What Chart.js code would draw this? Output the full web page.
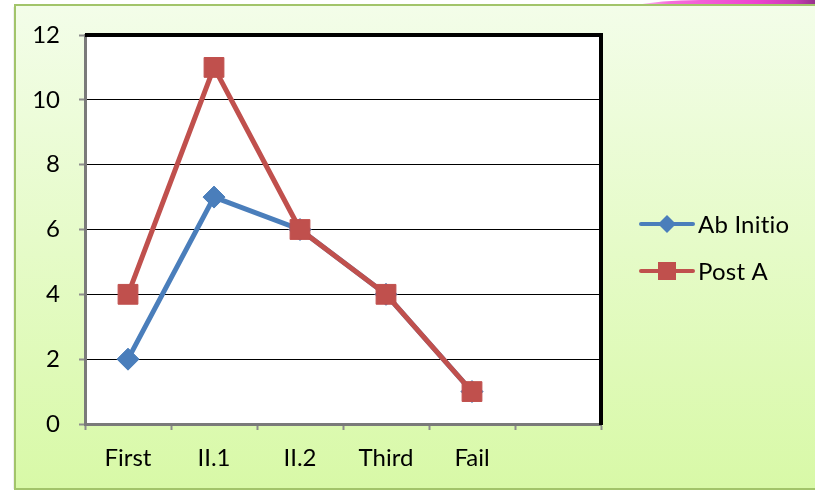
<!DOCTYPE html>
<html>
<head>
<meta charset="utf-8">
<script src="https://cdn.jsdelivr.net/npm/chart.js@4"></script>
<style>
  html, body { margin: 0; padding: 0; background: #ffffff; }
  #c { display: block; }
</style>
</head>
<body>
<canvas id="c" width="815" height="491"></canvas>
<script>
// Grade categories (the sixth slot is left empty on the axis)
const categories = ['First', 'II.1', 'II.2', 'Third', 'Fail', ''];
// Number of students per grade
const abInitio = [2, 7, 6, 4, 1, null];
const postA = [4, 11, 6, 4, 1, null];
// Value axis range
const yMin = 0;
const yMax = 12;
const yStep = 2;

const BLUE = '#4a7ebb';
const RED = '#c0504d';
const FONT = { family: 'Lato, "Liberation Sans", sans-serif', size: 24 };

// Background panel, frame and plot-area styling
const framePlugin = {
  id: 'frame',
  beforeDraw(chart) {
    const ctx = chart.ctx;
    const W = chart.width, H = chart.height;
    ctx.save();
    ctx.fillStyle = '#ffffff';
    ctx.fillRect(0, 0, W, H);

    // decorative pink swoosh above the panel
    const sw = ctx.createLinearGradient(620, 0, 815, 0);
    sw.addColorStop(0, 'rgba(245,90,215,0)');
    sw.addColorStop(0.25, 'rgba(245,95,215,0.9)');
    sw.addColorStop(0.7, 'rgba(238,66,208,1)');
    sw.addColorStop(0.9, 'rgba(200,60,180,1)');
    sw.addColorStop(1, 'rgba(150,50,140,1)');
    ctx.fillStyle = sw;
    ctx.beginPath();
    ctx.moveTo(630, 6);
    ctx.quadraticCurveTo(660, 0, 700, 0);
    ctx.lineTo(815, 0);
    ctx.lineTo(815, 6);
    ctx.closePath();
    ctx.fill();

    // soft shadow on the left of the panel
    ctx.fillStyle = 'rgba(0,0,0,0.06)';
    ctx.fillRect(13, 7, 2, H - 9);

    // green gradient panel
    const g = ctx.createLinearGradient(0, 5, 0, 489);
    g.addColorStop(0, '#f3fde9');
    g.addColorStop(1, '#d8f9a7');
    ctx.fillStyle = g;
    ctx.fillRect(15, 5, W, 484);
    ctx.strokeStyle = '#a2c46a';
    ctx.lineWidth = 2;
    ctx.strokeRect(15, 5, W + 10, 484);

    // white plot area
    const a = chart.chartArea;
    ctx.fillStyle = '#ffffff';
    ctx.fillRect(a.left, a.top, a.right - a.left, a.bottom - a.top);
    ctx.restore();
  },
  beforeDatasetsDraw(chart) {
    const ctx = chart.ctx;
    const a = chart.chartArea;
    ctx.save();
    ctx.strokeStyle = '#000000';
    ctx.lineWidth = 4;
    ctx.beginPath();
    ctx.moveTo(a.left, a.top);
    ctx.lineTo(a.right, a.top);
    ctx.lineTo(a.right, a.bottom + 1);
    ctx.stroke();
    ctx.restore();
  }
};

// Legend with line-and-marker samples on the right
const sideLegend = {
  id: 'sideLegend',
  afterDraw(chart) {
    const ctx = chart.ctx;
    const rows = [
      { ds: chart.data.datasets[0], y: 224 },
      { ds: chart.data.datasets[1], y: 271 }
    ];
    ctx.save();
    rows.forEach(r => {
      const ds = r.ds;
      ctx.strokeStyle = ds.borderColor;
      ctx.lineWidth = 4;
      ctx.lineCap = 'round';
      ctx.beginPath();
      ctx.moveTo(641, r.y);
      ctx.lineTo(693, r.y);
      ctx.stroke();
      ctx.fillStyle = ds.pointBackgroundColor;
      ctx.beginPath();
      if (ds.pointStyle === 'rect') {
        ctx.rect(667 - 9, r.y - 9, 18, 18);
      } else {
        ctx.moveTo(667, r.y - 9);
        ctx.lineTo(676, r.y);
        ctx.lineTo(667, r.y + 9);
        ctx.lineTo(658, r.y);
        ctx.closePath();
      }
      ctx.fill();
      ctx.fillStyle = '#000000';
      ctx.font = FONT.size + 'px ' + FONT.family;
      if ('letterSpacing' in ctx) ctx.letterSpacing = '0.2px';
      ctx.textAlign = 'left';
      ctx.textBaseline = 'middle';
      ctx.fillText(ds.label, 698, r.y + 1);
    });
    ctx.restore();
  }
};

new Chart(document.getElementById('c'), {
  type: 'line',
  data: {
    labels: categories,
    datasets: [
      {
        label: 'Ab Initio',
        data: abInitio,
        borderColor: BLUE,
        backgroundColor: BLUE,
        borderWidth: 5,
        pointStyle: 'rectRot',
        pointRadius: 11,
        pointBackgroundColor: BLUE,
        pointBorderColor: BLUE,
        pointBorderWidth: 1,
        tension: 0,
        order: 1
      },
      {
        label: 'Post A',
        data: postA,
        borderColor: RED,
        backgroundColor: RED,
        borderWidth: 5,
        pointStyle: 'rect',
        pointRadius: 14,
        pointBackgroundColor: RED,
        pointBorderColor: RED,
        pointBorderWidth: 1,
        tension: 0,
        order: 0
      }
    ]
  },
  options: {
    responsive: false,
    animation: false,
    devicePixelRatio: 1,
    layout: { padding: { left: 0, top: 35, right: 214, bottom: 0 } },
    plugins: {
      legend: { display: false },
      tooltip: { enabled: false }
    },
    scales: {
      x: {
        type: 'category',
        offset: true,
        afterFit(scale) { scale.height = 67; },
        grid: {
          offset: true,
          drawOnChartArea: false,
          drawTicks: true,
          tickLength: 6,
          tickColor: '#8c8c8c',
          tickWidth: 2
        },
        border: { display: true, color: '#7a7a7a', width: 3 },
        ticks: { color: '#000000', font: FONT, padding: 14, maxRotation: 0, autoSkip: false }
      },
      y: {
        min: yMin,
        max: yMax,
        afterFit(scale) { scale.width = 85; },
        grid: {
          color: '#000000',
          lineWidth: 1,
          drawTicks: true,
          tickLength: 6,
          tickColor: '#8c8c8c',
          tickWidth: 2
        },
        border: { display: true, color: '#7a7a7a', width: 3 },
        ticks: { stepSize: yStep, color: '#000000', font: FONT, padding: 19 }
      }
    }
  },
  plugins: [framePlugin, sideLegend]
});
</script>
</body>
</html>
